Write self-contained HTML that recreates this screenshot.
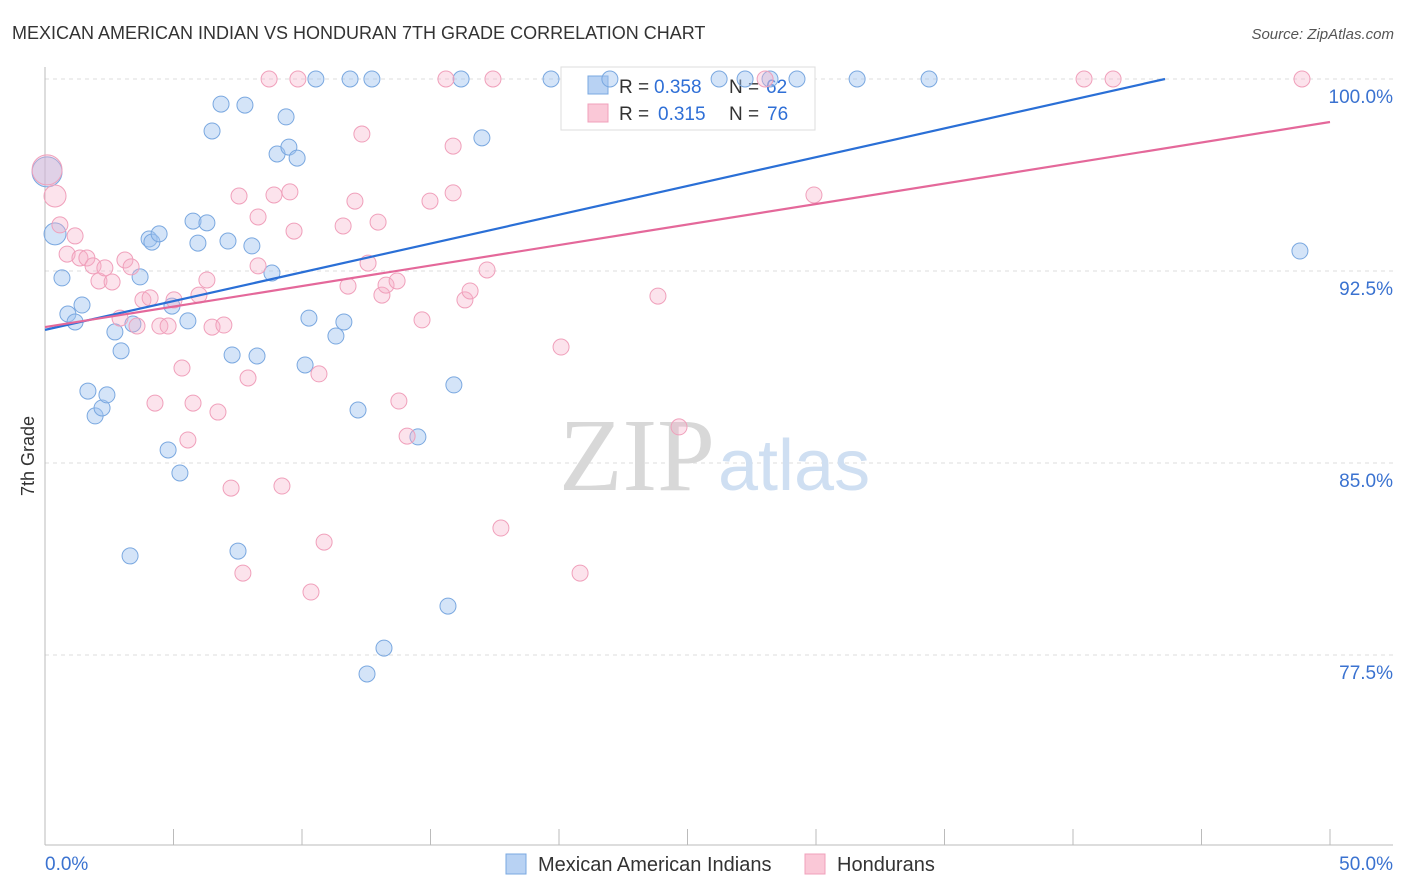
<!DOCTYPE html>
<html><head><meta charset="utf-8"><style>
body{margin:0;background:#fff;font-family:"Liberation Sans",sans-serif}
svg{display:block}
</style></head><body>
<svg width="1406" height="892" viewBox="0 0 1406 892">
<text x="12" y="39" font-size="18" fill="#333">MEXICAN AMERICAN INDIAN VS HONDURAN 7TH GRADE CORRELATION CHART</text>
<text x="1394" y="39" font-size="15" fill="#555" font-style="italic" text-anchor="end">Source: ZipAtlas.com</text>
<g id="grid"></g>
<text x="715" y="490" font-size="104" fill="#d8d8d8" text-anchor="end" font-family="Liberation Serif">ZIP</text>
<text x="718" y="490" font-size="72" fill="#cfdff2">atlas</text>
<g>
<rect x="561" y="67" width="254" height="63" fill="#fff" stroke="#ddd"/>
<rect x="588" y="76" width="20" height="18" fill="#b8d2f3" stroke="#7aa8e0"/>
<rect x="588" y="104" width="20" height="18" fill="#fac8d7" stroke="#f0a0bb"/>
<text x="619" y="93" font-size="19" fill="#333">R =</text>
<text x="654" y="93" font-size="19" fill="#2f6fd6">0.358</text>
<text x="729" y="93" font-size="19" fill="#333">N =</text>
<text x="766" y="93" font-size="19" fill="#2f6fd6">62</text>
<text x="619" y="120" font-size="19" fill="#333">R =</text>
<text x="658" y="120" font-size="19" fill="#2f6fd6">0.315</text>
<text x="729" y="120" font-size="19" fill="#333">N =</text>
<text x="767" y="120" font-size="19" fill="#2f6fd6">76</text>
</g>
<g id="pts"></g>
<g id="lines"></g>
<text transform="translate(34,456) rotate(-90)" font-size="18" fill="#333" text-anchor="middle">7th Grade</text>
<g>
<rect x="506" y="854" width="20" height="20" fill="#b8d2f3" stroke="#7aa8e0"/>
<text x="538" y="871" font-size="20" fill="#333">Mexican American Indians</text>
<rect x="805" y="854" width="20" height="20" fill="#fac8d7" stroke="#f0a0bb"/>
<text x="837" y="871" font-size="20" fill="#333">Hondurans</text>
</g>
</svg>
<script>
const yTicks=[100,92.5,85,77.5];
const yTickLabels=["100.0%","92.5%","85.0%","77.5%"];
const xTickCount=10;
const xLabels=["0.0%","50.0%"];
const blueX=[0.08,0.39,0.66,0.89,1.17,1.44,1.67,1.95,2.22,2.41,2.72,2.96,3.31,3.42,3.70,4.05,4.16,4.44,4.79,4.94,5.25,5.56,5.76,5.95,6.30,6.50,6.85,7.12,7.28,7.51,7.78,8.05,8.25,8.83,9.03,9.38,9.49,9.81,10.12,10.27,10.54,11.32,11.63,11.87,12.18,12.53,12.72,13.19,14.51,15.68,15.91,16.19,17.00,19.69,21.98,26.23,27.24,28.21,29.26,31.60,34.40,48.83];
const blueY=[96.37,93.95,92.23,90.82,90.51,91.17,87.81,86.84,87.15,87.66,90.12,89.38,81.37,90.43,92.27,93.75,93.63,93.95,85.51,91.13,84.61,90.55,94.45,93.59,94.38,97.97,99.02,93.67,89.22,81.56,98.98,93.48,89.18,92.42,97.07,98.52,97.34,96.91,88.83,90.66,100,89.96,90.51,100,87.07,76.76,100,77.77,86.02,79.41,88.05,100,97.70,100,100,100,100,100,100,100,100,93.28];
const pinkX=[0.08,0.39,0.58,0.86,1.17,1.36,1.63,1.87,2.10,2.33,2.61,2.92,3.11,3.35,3.58,3.81,4.09,4.28,4.47,4.79,5.02,5.33,5.56,5.76,5.99,6.30,6.50,6.73,6.96,7.24,7.55,7.70,7.90,8.29,8.29,8.72,8.91,9.22,9.53,9.69,9.84,10.35,10.66,10.86,11.60,11.79,12.06,12.33,12.57,12.96,13.11,13.27,13.70,13.77,14.09,14.67,14.98,15.60,15.88,15.88,16.34,16.54,17.20,17.43,17.74,20.08,20.82,23.85,24.67,28.02,29.92,40.43,41.56,48.91];
const pinkY=[96.45,95.43,94.30,93.16,93.87,93.01,93.01,92.70,92.11,92.62,92.07,90.66,92.93,92.66,90.35,91.37,91.45,87.34,90.35,90.35,91.37,88.71,85.90,87.34,91.56,92.15,90.31,86.99,90.39,84.02,95.43,80.70,88.32,94.61,92.70,100,95.47,84.10,95.59,94.06,100,79.96,88.48,81.91,94.26,91.91,95.23,97.85,92.81,94.41,91.56,91.95,92.11,87.42,86.05,90.59,95.23,100,97.38,95.55,91.37,91.72,92.54,100,82.46,89.53,80.70,91.52,86.41,100,95.47,100,100,100];
const blueLine=[[0,90.2],[43.58,100]];
const pinkLine=[[0,90.31],[50,98.32]];
const NS="http://www.w3.org/2000/svg";
const X=v=>45+v*25.7, Y=v=>79+(100-v)*25.6;
function mk(tag,attrs,parent){const e=document.createElementNS(NS,tag);for(const k in attrs)e.setAttribute(k,attrs[k]);parent.appendChild(e);return e;}
const grid=document.getElementById('grid');
yTicks.forEach((t,i)=>{
 const l=mk('line',{x1:45,x2:1393,y1:Y(t),y2:Y(t),stroke:'#ddd','stroke-dasharray':'4,4'},grid);
 
 
 const tx=mk('text',{x:1393,y:Y(t)+24,'font-size':19,fill:'#3a72d0','text-anchor':'end'},grid);
 tx.textContent=yTickLabels[i];
 
 
});
const ax=mk('line',{x1:45,x2:45,y1:67,y2:845,stroke:'#bbb'},grid);


const bx=mk('line',{x1:45,x2:1393,y1:845,y2:845,stroke:'#bbb'},grid);


for(let i=0;i<=xTickCount;i++){
 const v=50*i/xTickCount;
 const t=mk('line',{x1:X(v),x2:X(v),y1:829,y2:845,stroke:'#bbb'},grid);
 
 
}
[[0,'start',45],[1,'end',1393]].forEach(([i,a,x])=>{
 const t=mk('text',{x:x,y:870,'font-size':19,fill:'#3a72d0','text-anchor':a},grid);
 t.textContent=xLabels[i];
 
 
});
const pts=document.getElementById('pts');
function draw(xs,ys,fill,stroke,name){
 xs.forEach((x,i)=>{
  const r=(i<2)?(i==0?15:11):8;
  const c=mk('circle',{cx:X(x),cy:Y(ys[i]),r:r,fill:fill,stroke:stroke,'stroke-width':1},pts);
  
  
 });
}
draw(blueX,blueY,'rgba(160,196,240,0.45)','#7aa8e0','mexican-american-indian-point');
draw(pinkX,pinkY,'rgba(247,175,200,0.35)','#f0a0bb','honduran-point');
const lines=document.getElementById('lines');
const bl=mk('line',{x1:X(blueLine[0][0]),y1:Y(blueLine[0][1]),x2:X(blueLine[1][0]),y2:Y(blueLine[1][1]),stroke:'#2a6fd6','stroke-width':2.2},lines);


const pl=mk('line',{x1:X(pinkLine[0][0]),y1:Y(pinkLine[0][1]),x2:X(pinkLine[1][0]),y2:Y(pinkLine[1][1]),stroke:'#e4689a','stroke-width':2.2},lines);


</script>
</body></html>
